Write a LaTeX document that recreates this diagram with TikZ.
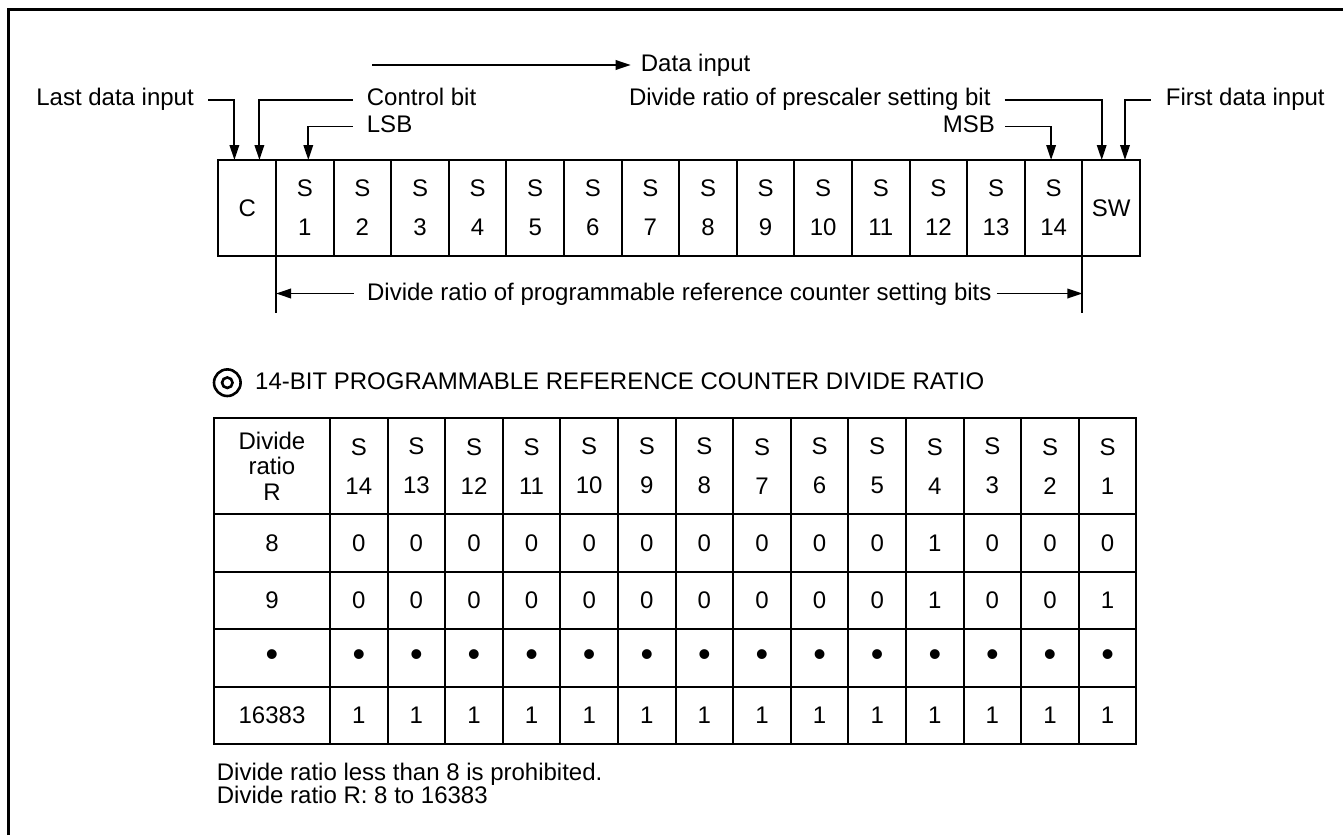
\documentclass[tikz,border=0pt]{standalone}
\usepackage{fontspec}
\setmainfont{Liberation Sans}
\usetikzlibrary{arrows.meta,calc}
\begin{document}
\begin{tikzpicture}[x=1pt,y=-1pt,
  every node/.style={font=\fontsize{24}{28}\selectfont, inner sep=0pt},
  cell/.style={draw, line width=2pt, outer sep=0pt, minimum width=57.6pt, minimum height=95.7pt, anchor=north west, align=center, font=\fontsize{24}{39}\selectfont},
  tcell/.style={draw, line width=2pt, outer sep=0pt, minimum width=57.6pt, minimum height=57.6pt, anchor=north west},
  dotcell/.style={tcell, font=\fontsize{36}{36}\selectfont},
  conn/.style={line width=1.9pt},
  arr/.style={conn, -{Triangle[length=15pt,width=9.5pt]}},
  ring/.style={circle, draw, line width=2.6pt},
]
\useasboundingbox (0,0) rectangle (1343,835);
% frame
\draw[line width=2.2pt] (8.5,835) -- (8.5,9.5) -- (1343,9.5);

% register
\node[cell] (C) at (218.4,160) {C};
\foreach \i in {1,...,14}
  \node[cell] (S\i) at ({218.4+57.6*\i},160) {S\\\i};
\node[cell] (SW) at ({218.4+57.6*15},160) {SW};

% labels above
\node[anchor=base east] (lastin) at (194,105.5) {Last data input};
\node[anchor=base west] (ctrl) at (366.7,105.5) {Control bit};
\node[anchor=base west] (lsb) at (366.7,132) {LSB};
\node[anchor=base west] (datain) at (640.7,71) {Data input};
\coordinate (dstart) at (372,65);
\node[anchor=base east] (pre) at (990.7,105.5) {Divide ratio of prescaler setting bit};
\node[anchor=base east] (msb) at (995,132) {MSB};
\node[anchor=base west] (first) at (1165.7,105.5) {First data input};

\draw[arr] ([xshift=14pt,yshift=5.5pt]lastin.base east) -| ([xshift=16pt]C.north west);
\draw[arr] ([xshift=-14pt,yshift=5.5pt]ctrl.base west) -| ([xshift=41pt]C.north west);
\draw[arr] ([xshift=-14pt,yshift=5.5pt]lsb.base west) -| ([xshift=3.5pt]S1.north);
\draw[arr] (dstart) -- ([xshift=-10pt,yshift=6pt]datain.base west);
\draw[arr] ([xshift=14pt,yshift=5.5pt]pre.base east) -| ([xshift=19.3pt]SW.north west);
\draw[arr] ([xshift=10pt,yshift=5.5pt]msb.base east) -| ([xshift=-2.5pt]S14.north);
\draw[arr] ([xshift=-15pt,yshift=5.5pt]first.base west) -| ([xshift=42.6pt]SW.north west);

% range below register
\draw[conn] (C.south east) -- ++(0,57.6) coordinate (rlL);
\draw[conn] (S14.south east) -- ++(0,57.6) coordinate (rlR);
\node[anchor=base] (range) at (679.3,300) {Divide ratio of programmable reference counter setting bits};
\coordinate (rangeYL) at ([yshift=6.5pt]range.base west);
\coordinate (rangeYR) at ([yshift=6.5pt]range.base east);
\draw[arr] ([xshift=-13pt]rangeYL) -- (rangeYL -| rlL);
\draw[arr] ([xshift=5pt]rangeYR) -- (rangeYR -| rlR);

% title
\node[ring, minimum size=26.6pt] (dc) at (227.3,382.7) {};
\node[ring, minimum size=10.5pt] (dci) at (dc.center) {};
\node[anchor=base west] (title) at (255,389.3) {14-BIT PROGRAMMABLE REFERENCE COUNTER DIVIDE RATIO};

% table header
\node[tcell, minimum width=116pt, minimum height=95.7pt, align=center, font=\fontsize{24}{25.3}\selectfont] (h0) at (214,418.3) {Divide\\ratio\\R};
\foreach \j [evaluate=\j as \n using {int(15-\j)}] in {1,...,14}
  \node[cell] (h\j) at ({330+57.6*(\j-1)},418.3) {S\\\n};

% table rows
\node[tcell, minimum width=116pt] (ra0) at (214,514) {8};
\foreach \b [count=\ci] in {0,0,0,0,0,0,0,0,0,0,1,0,0,0}
  \node[tcell] (ra\ci) at ({330+57.6*(\ci-1)},514) {\b};
\node[tcell, minimum width=116pt] (rb0) at (214,571.6) {9};
\foreach \b [count=\ci] in {0,0,0,0,0,0,0,0,0,0,1,0,0,1}
  \node[tcell] (rb\ci) at ({330+57.6*(\ci-1)},571.6) {\b};
\node[dotcell, minimum width=116pt] (rc0) at (214,629.2) {•};
\foreach \ci in {1,...,14}
  \node[dotcell] (rc\ci) at ({330+57.6*(\ci-1)},629.2) {•};
\node[tcell, minimum width=116pt] (rd0) at (214,686.8) {16383};
\foreach \ci in {1,...,14}
  \node[tcell] (rd\ci) at ({330+57.6*(\ci-1)},686.8) {1};

% notes
\node[anchor=base west] (n1) at (216.7,780) {Divide ratio less than 8 is prohibited.};
\node[anchor=base west] (n2) at (216.7,803.3) {Divide ratio R: 8 to 16383};
\end{tikzpicture}
\end{document}
